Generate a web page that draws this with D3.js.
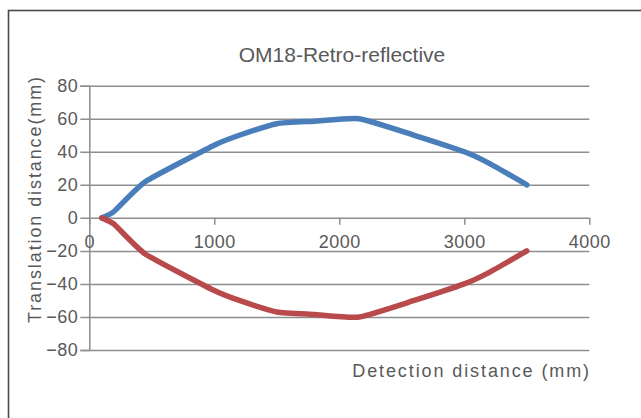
<!DOCTYPE html>
<html>
<head>
<meta charset="utf-8">
<script src="https://cdn.jsdelivr.net/npm/d3@7"></script>
<style>
  body { margin: 0; background: #fff; }
  svg { display: block; font-family: "Liberation Sans", Arial, sans-serif; }
</style>
</head>
<body>
<svg id="chart" width="641" height="418"></svg>
<script>
// values
let distances = [100, 200, 450, 1000, 1200, 1500, 1800, 2160, 2600, 3000, 3200, 3500];
let upper = [0, 4, 22, 44, 50, 57, 58.5, 60, 50, 40, 33, 20];
let lower = [0, -4, -22, -44, -50, -57, -58.5, -60, -50, -40, -33, -20];
let xTicks = [0, 1000, 2000, 3000, 4000];
let yTicks = [-80, -60, -40, -20, 0, 20, 40, 60, 80];
let seriesColors = ["#4a7ebb", "#b94a4c"];

let svg = d3.select("#chart");
let width = +svg.attr("width");
let height = +svg.attr("height");

// outer frame, runs off the right and bottom edges
svg.append("rect")
  .attr("x", 8.5).attr("y", 10.5)
  .attr("width", width + 20).attr("height", height + 20)
  .attr("fill", "none").attr("stroke", "#4a4a4a").attr("stroke-width", 1.6);

let x = d3.scaleLinear().domain([0, 4000]).range([89.3, 589.3]);
let y = d3.scaleLinear().domain([-80, 80]).range([350, 85.7]);

let gridColor = "#8e8e8e";
let textColor = "#595959";

// horizontal grid + y axis
let yAxis = svg.append("g")
  .attr("transform", "translate(" + x(0) + ",0)")
  .call(d3.axisLeft(y).tickValues(yTicks).tickSize(9).tickPadding(2)
    .tickFormat(d => d < 0 ? "\u2212" + Math.abs(d) : d));
yAxis.select(".domain").attr("stroke", gridColor).attr("stroke-width", 1.5);
yAxis.selectAll(".tick line").attr("stroke", gridColor).attr("stroke-width", 1.5)
  .attr("x2", x(4000) - x(0)).attr("x1", -9);
yAxis.selectAll(".tick text").attr("fill", textColor)
  .style("font-size", "18px").style("letter-spacing", "0.5px")
  .style("font-family", "\"Liberation Sans\", Arial, sans-serif");

// x axis sits on zero
let xAxis = svg.append("g")
  .attr("transform", "translate(0," + y(0) + ")")
  .call(d3.axisBottom(x).tickValues(xTicks).tickSize(7).tickPadding(10)
    .tickFormat(d3.format("d")));
xAxis.select(".domain").remove();
xAxis.selectAll(".tick line").attr("stroke", gridColor).attr("stroke-width", 1.5);
xAxis.selectAll(".tick text").attr("fill", textColor)
  .style("font-size", "18px").style("letter-spacing", "0.5px")
  .style("font-family", "\"Liberation Sans\", Arial, sans-serif");

// series
let line = d3.line()
  .x((d, i) => x(distances[i]))
  .y(d => y(d))
  .curve(d3.curveCardinal.tension(0.5));

svg.selectAll(".series")
  .data([upper, lower])
  .join("path")
  .attr("class", "series")
  .attr("d", d => line(d))
  .attr("fill", "none")
  .attr("stroke", (d, i) => seriesColors[i])
  .attr("stroke-width", 5.5)
  .attr("stroke-linecap", "round")
  .attr("stroke-linejoin", "round");

// titles
svg.append("text")
  .attr("x", 342).attr("y", 61.5)
  .attr("text-anchor", "middle")
  .attr("fill", textColor)
  .style("font-size", "21px")
  .text("OM18-Retro-reflective");

svg.append("text")
  .attr("transform", "translate(41,199) rotate(-90)")
  .attr("text-anchor", "middle")
  .attr("fill", textColor)
  .style("font-size", "18px").style("letter-spacing", "1.9px")
  .text("Translation distance(mm)");

svg.append("text")
  .attr("x", 591).attr("y", 377)
  .attr("text-anchor", "end")
  .attr("fill", textColor)
  .style("font-size", "18px").style("letter-spacing", "1.9px")
  .text("Detection distance (mm)");
</script>
</body>
</html>
